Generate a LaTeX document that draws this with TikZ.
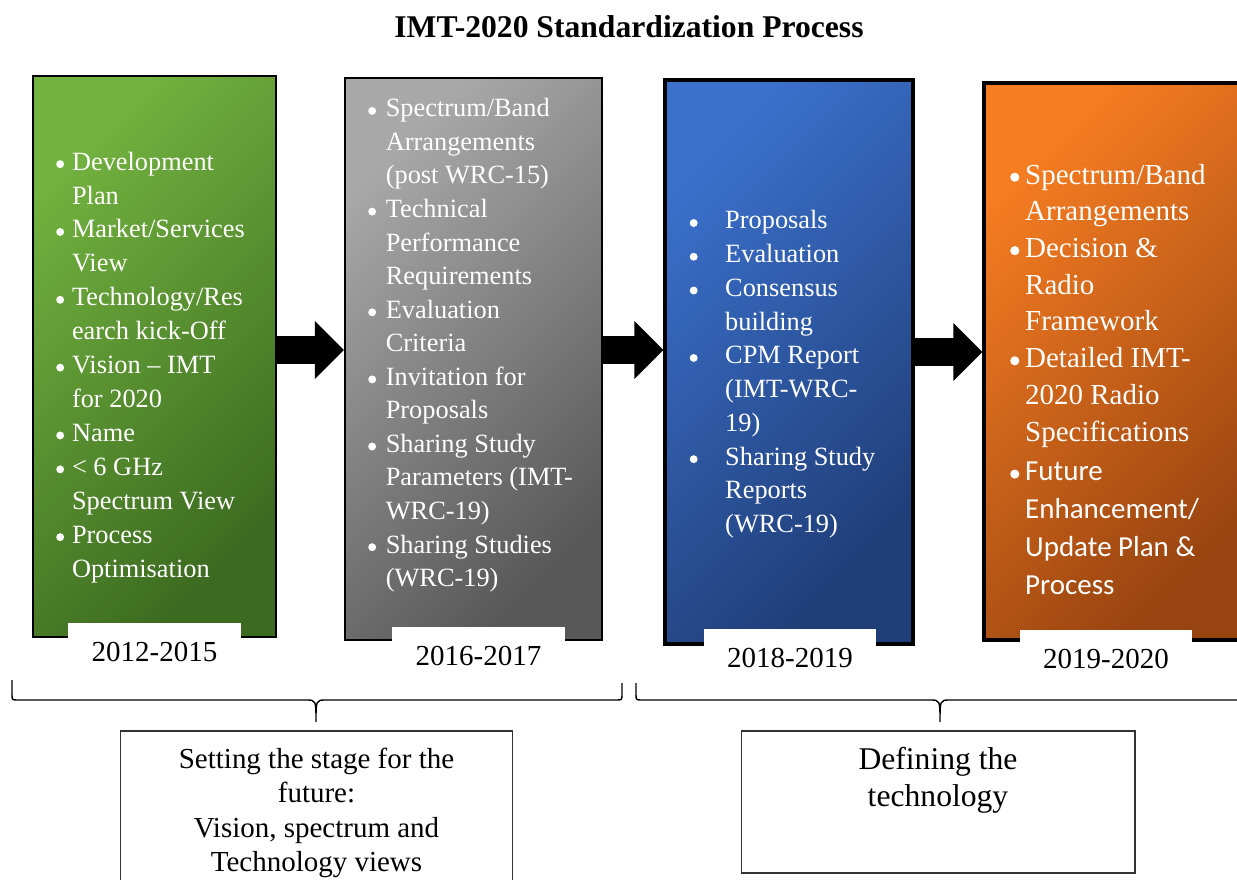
\documentclass[tikz,border=0pt]{standalone}
\usepackage{fontspec}
\setmainfont{Liberation Serif}
\newfontfamily\calib{Carlito}
\usetikzlibrary{arrows.meta, positioning}

\definecolor{greenlight}{HTML}{72B23F}
\definecolor{greendark}{HTML}{3C6A20}
\definecolor{graylight}{HTML}{A8A8A8}
\definecolor{graydark}{HTML}{585858}
\definecolor{bluelight}{HTML}{3B70CB}
\definecolor{bluedark}{HTML}{1F3D76}
\definecolor{orangelight}{HTML}{F67D22}
\definecolor{orangedark}{HTML}{984410}

\newlength\dotw
\newlength\dotr
\newcommand{\dotitem}{\makebox[\dotw][l]{\hspace{0.5pt}\tikz[baseline=-1.5\dotr]\fill[white] (0,0) circle (\dotr);}}
\newcommand{\dotgap}{\hspace*{\dotw}}

\tikzset{
  stage/.style={draw=black, inner sep=0pt},
  items/.style={anchor=north west, inner sep=0pt, align=left, text=white},
  yearlabel/.style={fill=white, inner sep=0pt, anchor=north, minimum width=3.46cm,
    text height=21.5pt, text depth=10pt, font=\fontsize{16.5}{20}\selectfont},
  flowarrow/.style={line width=0.56cm, -{Triangle[length=0.58cm, width=1.12cm]}},
  bracket/.style={draw=black, line width=0.8pt},
  notebox/.style={draw=black!80, line width=0.6pt, inner sep=0pt},
}

\begin{document}
\begin{tikzpicture}[x=0.02cm, y=-0.02cm]
\useasboundingbox (0,0) rectangle (1237,879);
\clip (0,0) rectangle (1237,879);
% Title
\node[font=\bfseries\fontsize{18}{22}\selectfont, anchor=base] (title) at (629,37)
  {IMT-2020 Standardization Process};
% The four stages, shaded from top left to bottom right
\node[stage, line width=0.9pt, minimum width=4.86cm, minimum height=11.22cm,
  top color=greenlight, bottom color=greendark, shading angle=45] (green) at (154.5,356.5) {};
\node[stage, line width=1.2pt, minimum width=5.14cm, minimum height=11.24cm,
  top color=graylight, bottom color=graydark, shading angle=45] (gray) at (473.5,359) {};
\node[stage, line width=1.8pt, minimum width=4.96cm, minimum height=11.28cm,
  top color=bluelight, bottom color=bluedark, shading angle=45] (blue) at (789,362) {};
\node[stage, line width=1.8pt, minimum width=5.22cm, minimum height=11.14cm,
  top color=orangelight, bottom color=orangedark, shading angle=45] (orange) at (1114.5,361.5) {};
% Bullet lists
\node[items, font={\fontsize{15}{19.3}\selectfont\setlength\dotw{9.5pt}\setlength\dotr{2.25pt}}] (greenlist) at (55,146) {
  \strut\dotitem Development\\ \dotgap Plan\\
  \dotitem Market/Services\\ \dotgap View\\
  \dotitem Technology/Res\\ \dotgap earch kick-Off\\
  \dotitem Vision -- IMT\\ \dotgap for 2020\\
  \dotitem Name\\
  \dotitem \textless\ 6 GHz\\ \dotgap Spectrum View\\
  \dotitem Process\\ \dotgap Optimisation};
\node[items, font={\fontsize{15}{19.1}\selectfont\setlength\dotw{10.5pt}\setlength\dotr{2.25pt}}] (graylist) at (367,93) {
  \strut\dotitem Spectrum/Band\\ \dotgap Arrangements\\ \dotgap (post WRC-15)\\
  \dotitem Technical\\ \dotgap Performance\\ \dotgap Requirements\\
  \dotitem Evaluation\\ \dotgap Criteria\\
  \dotitem Invitation for\\ \dotgap Proposals\\
  \dotitem Sharing Study\\ \dotgap Parameters (IMT-\\ \dotgap WRC-19)\\
  \dotitem Sharing Studies\\ \dotgap (WRC-19)};
\node[items, font={\fontsize{15}{19.2}\selectfont\setlength\dotw{20.7pt}\setlength\dotr{2.25pt}}] (bluelist) at (688.5,205) {
  \strut\dotitem Proposals\\
  \dotitem Evaluation\\
  \dotitem Consensus\\ \dotgap building\\
  \dotitem CPM Report\\ \dotgap (IMT-WRC-\\ \dotgap 19)\\
  \dotitem Sharing Study\\ \dotgap Reports\\ \dotgap (WRC-19)};
\node[items, font={\fontsize{16.5}{20.9}\selectfont\setlength\dotw{9pt}\setlength\dotr{2.6pt}}] (orangelist) at (1009,158) {
  \strut\dotitem Spectrum/Band\\ \dotgap Arrangements\\
  \dotitem Decision \&\\ \dotgap Radio\\ \dotgap Framework\\
  \dotitem Detailed IMT-\\ \dotgap 2020 Radio\\ \dotgap Specifications};
\node[items, font={\calib\fontsize{16.5}{21.6}\selectfont\setlength\dotw{9pt}\setlength\dotr{2.6pt}}] (orangemore) at (1009,454) {
  \strut\dotitem Future\\ \dotgap Enhancement/\\ \dotgap Update Plan \&\\ \dotgap Process};
% Years
\node[yearlabel] (year1) at (154.5,623) {2012-2015};
\node[yearlabel] (year2) at (478.5,627) {2016-2017};
\node[yearlabel] (year3) at (790,629) {2018-2019};
\node[yearlabel] (year4) at (1106,630) {2019-2020};
% Block arrows between the stages
\coordinate (flow) at (0,350);
\coordinate (flowlow) at (0,352);
\draw[flowarrow] (green.east |- flow) -- (gray.west |- flow);
\draw[flowarrow] (gray.east |- flow) -- (blue.west |- flow);
\draw[flowarrow] (blue.east |- flowlow) -- (orange.west |- flowlow);
% Braces
\coordinate (tipA) at (316,722);
\coordinate (tipB) at (940,722);
\draw[bracket] (12,680) -- (12,694) .. controls (12,700) .. (18,700) -- (306,700)
  .. controls (316,700) .. (tipA) .. controls (316,700) .. (326,700) -- (616,700)
  .. controls (622,700) .. (622,694) -- (622,683);
\draw[bracket] (636,683) -- (636,694) .. controls (636,700) .. (642,700) -- (930,700)
  .. controls (940,700) .. (tipB) .. controls (940,700) .. (950,700) -- (1250,700);
% Summary boxes
\node[notebox, minimum width=7.86cm, minimum height=3.4cm] (stagenote) at (316.5,816) {};
\node[font=\fontsize{16.5}{19.6}\selectfont, align=center, inner sep=0pt,
  below=0.27cm of stagenote.north] (stagetext)
  {\strut Setting the stage for the\\future:\\Vision, spectrum and\\Technology views};
\node[notebox, minimum width=7.88cm, minimum height=2.84cm] (technote) at (938,802) {};
\node[font=\fontsize{18}{21}\selectfont, align=center, inner sep=0pt,
  below=0.25cm of technote.north] (techtext)
  {\strut Defining the\\technology};
\end{tikzpicture}
\end{document}
